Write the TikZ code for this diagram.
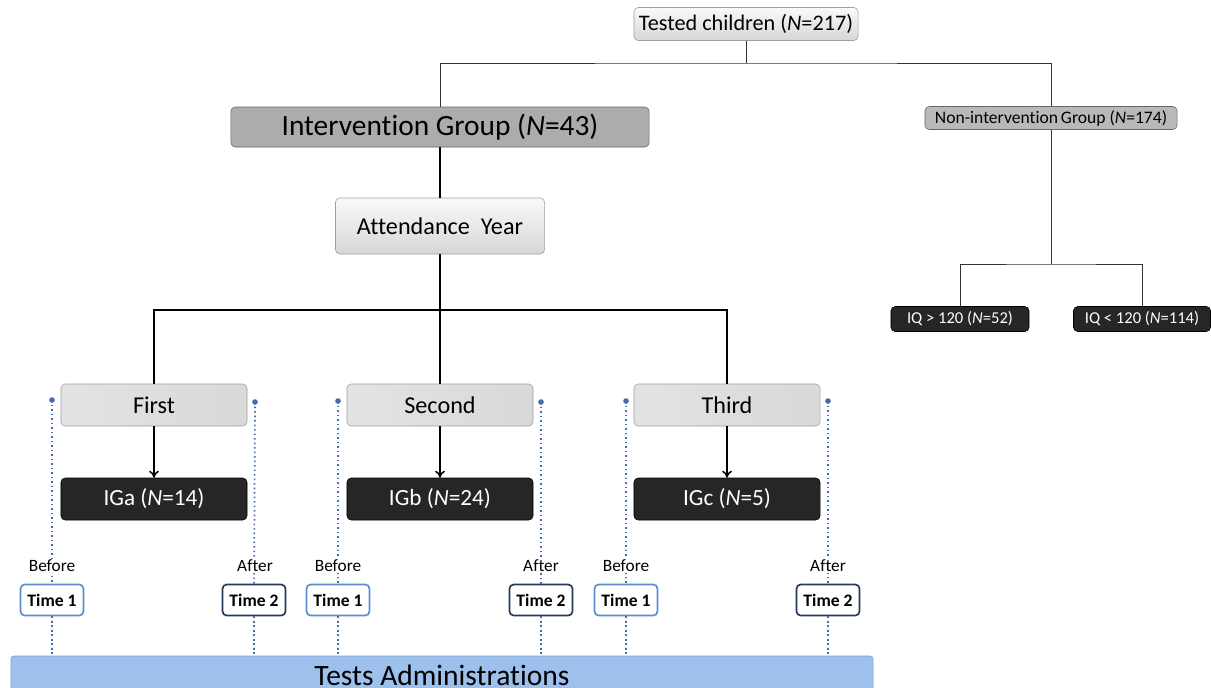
\documentclass[tikz,border=0pt]{standalone}
\usepackage{fontspec}
\setmainfont{Carlito}[Ligatures=NoCommon]
\usetikzlibrary{arrows.meta}

\definecolor{barblue}{RGB}{157,192,236}
\definecolor{barline}{RGB}{120,158,212}
\definecolor{dotblue}{RGB}{68,108,170}
\definecolor{lightnavy}{RGB}{92,140,205}
\definecolor{darknavy}{RGB}{36,58,92}
\definecolor{boxdark}{RGB}{38,38,38}

\begin{document}
\begin{tikzpicture}[x=0.025cm,y=-0.025cm,
  lightbox/.style={draw=gray!75, rounded corners=3pt, top color=gray!4, bottom color=gray!32, inner sep=0pt},
  greybox/.style={draw=gray!80!black, rounded corners=3pt, fill=gray!65, inner sep=0pt},
  darkbox/.style={draw=black, rounded corners=3pt, fill=boxdark, text=white, inner sep=0pt},
  yearbox/.style={draw=gray!75, rounded corners=3pt, left color=gray!22, middle color=gray!8, right color=gray!30, inner sep=0pt, minimum width=4.65cm, minimum height=1.05cm, font=\fontsize{17.2}{20}\selectfont},
  groupbox/.style={darkbox, minimum width=4.65cm, minimum height=1.05cm, font=\fontsize{16.5}{19}\selectfont},
  iqbox/.style={darkbox, minimum width=3.45cm, minimum height=0.625cm, font=\fontsize{11.8}{14}\selectfont},
  timeone/.style={draw=lightnavy, line width=1.2pt, rounded corners=3pt, fill=white, minimum width=1.575cm, minimum height=0.775cm, inner sep=0pt, font=\bfseries\fontsize{12.5}{15}\selectfont},
  timetwo/.style={timeone, draw=darknavy},
  when/.style={fill=white, inner sep=1pt, font=\fontsize{12.3}{14}\selectfont},
  tdot/.style={dotblue, dotted, line width=1.2pt},
  link/.style={black!80, line width=0.6pt},
  trunk/.style={black, line width=1.1pt}]
\useasboundingbox (0,0) rectangle (1211,687);
\clip (0,0) rectangle (1211,687);

% top of the tree
\node[lightbox, minimum width=5.6cm, minimum height=0.825cm, font=\fontsize{15.8}{18}\selectfont] (tested) at (746,24) {Tested children (\textit{N}=217)};
\node[greybox, minimum width=10.45cm, minimum height=1cm, font=\fontsize{20.9}{24}\selectfont] (ig) at (440,127) {Intervention Group (\textit{N}=43)};
\node[greybox, fill=gray!55, minimum width=6.3cm, minimum height=0.575cm, font=\fontsize{12.5}{14}\selectfont] (nonig) at (1051,118) {Non-intervention\,Group (\textit{N}=174)};
\coordinate (split) at (746,63);
\draw[link] (tested) -- (split);
\draw[link] (ig) |- (split) -| (nonig);

% non-intervention branch
\node[iqbox] (iqhigh) at (960,319) {IQ > 120 (\textit{N}=52)};
\node[iqbox, minimum width=3.425cm] (iqlow) at (1142,319) {IQ < 120 (\textit{N}=114)};
\coordinate (iqsplit) at (1051,264);
\draw[link] (nonig) -- (iqsplit);
\draw[link] (iqhigh) |- (iqsplit) -| (iqlow);

% intervention branch
\node[lightbox, minimum width=5.225cm, minimum height=1.4cm, font=\fontsize{17.2}{20}\selectfont] (att) at (440,226) {Attendance\ \ Year};
\draw[trunk] (ig) -- (att);
\node[yearbox] (first) at (154,405) {First};
\node[yearbox] (second) at (440,405) {Second};
\node[yearbox] (third) at (727,405) {Third};
\coordinate (ysplit) at (440,310);
\draw[trunk] (att) -- (ysplit);
\draw[trunk] (first) |- (ysplit) -| (third);
\draw[trunk] (ysplit) -- (second);

\node[groupbox] (iga) at (154,499) {IGa (\textit{N}=14)};
\node[groupbox] (igb) at (440,499) {IGb (\textit{N}=24)};
\node[groupbox] (igc) at (727,499) {IGc (\textit{N}=5)};
\draw[trunk, -{To[length=5pt,width=7pt]}] (first) -- (iga);
\draw[trunk, -{To[length=5pt,width=7pt]}] (second) -- (igb);
\draw[trunk, -{To[length=5pt,width=7pt]}] (third) -- (igc);

% bottom bar
\node[draw=barline, fill=barblue, rounded corners=2pt, minimum width=21.55cm, minimum height=1.1cm, inner sep=0pt, font=\fontsize{21}{24}\selectfont] (tests) at (442,678) {\raisebox{4.5pt}{Tests Administrations}};

% time points
\coordinate (d1) at (52,400);
\coordinate (d2) at (255,402);
\coordinate (d3) at (338,401);
\coordinate (d4) at (541,402);
\coordinate (d5) at (626,401);
\coordinate (d6) at (828,401);
\node[timeone] (t1) at (52,600) {Time 1};
\node[timetwo] (t2) at (254,600) {Time 2};
\node[timeone] (t3) at (338,600) {Time 1};
\node[timetwo] (t4) at (541,600) {Time 2};
\node[timeone] (t5) at (626,600) {Time 1};
\node[timetwo] (t6) at (828,600) {Time 2};
\draw[tdot] (d1) -- (t1); \draw[tdot] (t1) -- (t1 |- tests.north);
\draw[tdot] (d2) -- (t2); \draw[tdot] (t2) -- (t2 |- tests.north);
\draw[tdot] (d3) -- (t3); \draw[tdot] (t3) -- (t3 |- tests.north);
\draw[tdot] (d4) -- (t4); \draw[tdot] (t4) -- (t4 |- tests.north);
\draw[tdot] (d5) -- (t5); \draw[tdot] (t5) -- (t5 |- tests.north);
\draw[tdot] (d6) -- (t6); \draw[tdot] (t6) -- (t6 |- tests.north);
\foreach \d in {d1,d2,d3,d4,d5,d6} \fill[dotblue] (\d) circle (2pt);
\node[when] (w1) at (52,566) {Before};
\node[when] (w2) at (255,566) {After};
\node[when] (w3) at (338,566) {Before};
\node[when] (w4) at (541,566) {After};
\node[when] (w5) at (626,566) {Before};
\node[when] (w6) at (828,566) {After};
\end{tikzpicture}
\end{document}
